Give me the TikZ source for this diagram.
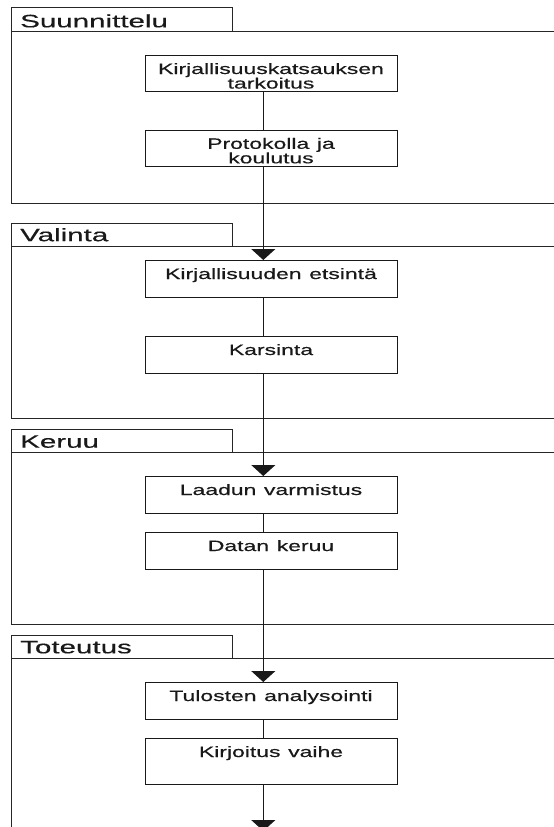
\documentclass[tikz,border=0pt]{standalone}
\usepackage{fontspec}
\setmainfont{Liberation Sans}[FakeBold=0.35]
\usetikzlibrary{arrows.meta}
\newcommand{\hstr}[1]{\scalebox{1.53}[1]{#1}}
\newcommand{\tstr}[1]{\scalebox{1.64}[1]{#1}}
\begin{document}
\begin{tikzpicture}[x=1pt,y=-1pt,
  stepbox/.style={draw=black!90, line width=1pt, inner xsep=0pt, inner ysep=0pt,
    text width=252pt, align=center, anchor=north, text=black!90,
    font=\fontsize{15}{14.5}\selectfont},
  onebox/.style={stepbox, text height=18.5pt, text depth=18pt},
  twobox/.style={stepbox, text height=19pt, text depth=17.5pt},
  frameline/.style={draw=black!85, line width=1pt},
  tabtext/.style={anchor=base west, inner sep=0pt, text=black!90, font=\fontsize{18}{20}\selectfont},
  flow/.style={draw=black!90, line width=1pt},
  arr/.style={flow, -{Triangle[width=24pt,length=11pt]}}]
\useasboundingbox (0,0) rectangle (554,827);
\fill[white] (0,0) rectangle (554,827);

% frames
\draw[frameline] (11.5,31.7) -- (11.5,7.3) -- (232,7.3) -- (232,31.7);
\draw[frameline] (560,31.7) -- (11.5,31.7) -- (11.5,203.3) -- (560,203.3);
\node[tabtext] (t1) at (20,27.3) {\tstr{Suunnittelu}};

\draw[frameline] (11.5,246.7) -- (11.5,223.3) -- (232,223.3) -- (232,246.7);
\draw[frameline] (560,246.7) -- (11.5,246.7) -- (11.5,418.7) -- (560,418.7);
\node[tabtext] (t2) at (20,241.2) {\tstr{Valinta}};

\draw[frameline] (11.5,452.3) -- (11.5,429) -- (232,429) -- (232,452.3);
\draw[frameline] (560,452.3) -- (11.5,452.3) -- (11.5,624.3) -- (560,624.3);
\node[tabtext] (t3) at (20,447.7) {\tstr{Keruu}};

\draw[frameline] (11.5,658.3) -- (11.5,635) -- (232,635) -- (232,658.3);
\draw[frameline] (560,658.3) -- (11.5,658.3) -- (11.5,830);
\node[tabtext] (t4) at (20,653.3) {\tstr{Toteutus}};

% boxes
\node[twobox] (b1) at (271,54.5) {\hstr{Kirjallisuuskatsauksen}\\\hstr{tarkoitus}};
\node[twobox, text height=18.3pt, text depth=17.7pt] (b2) at (271,130) {\hstr{Protokolla ja}\\\hstr{koulutus}};
\node[onebox] (b3) at (271,260) {\hstr{Kirjallisuuden etsintä}};
\node[onebox] (b4) at (271,336) {\hstr{Karsinta}};
\node[onebox] (b5) at (271,476) {\hstr{Laadun varmistus}};
\node[onebox] (b6) at (271,532) {\hstr{Datan keruu}};
\node[onebox] (b7) at (271,682) {\hstr{Tulosten analysointi}};
\node[onebox, text depth=27pt] (b8) at (271,738) {\hstr{Kirjoitus vaihe}};
\coordinate (end) at (263.3,831);

% connectors
\draw[flow] ([xshift=-7.7pt]b1.south) -- ([xshift=-7.7pt]b2.north);
\draw[arr]  ([xshift=-7.7pt]b2.south) -- ([xshift=-7.7pt]b3.north);
\draw[flow] ([xshift=-7.7pt]b3.south) -- ([xshift=-7.7pt]b4.north);
\draw[arr]  ([xshift=-7.7pt]b4.south) -- ([xshift=-7.7pt]b5.north);
\draw[flow] ([xshift=-7.7pt]b5.south) -- ([xshift=-7.7pt]b6.north);
\draw[arr]  ([xshift=-7.7pt]b6.south) -- ([xshift=-7.7pt]b7.north);
\draw[flow] ([xshift=-7.7pt]b7.south) -- ([xshift=-7.7pt]b8.north);
\draw[arr]  ([xshift=-7.7pt]b8.south) -- (end);
\end{tikzpicture}
\end{document}
